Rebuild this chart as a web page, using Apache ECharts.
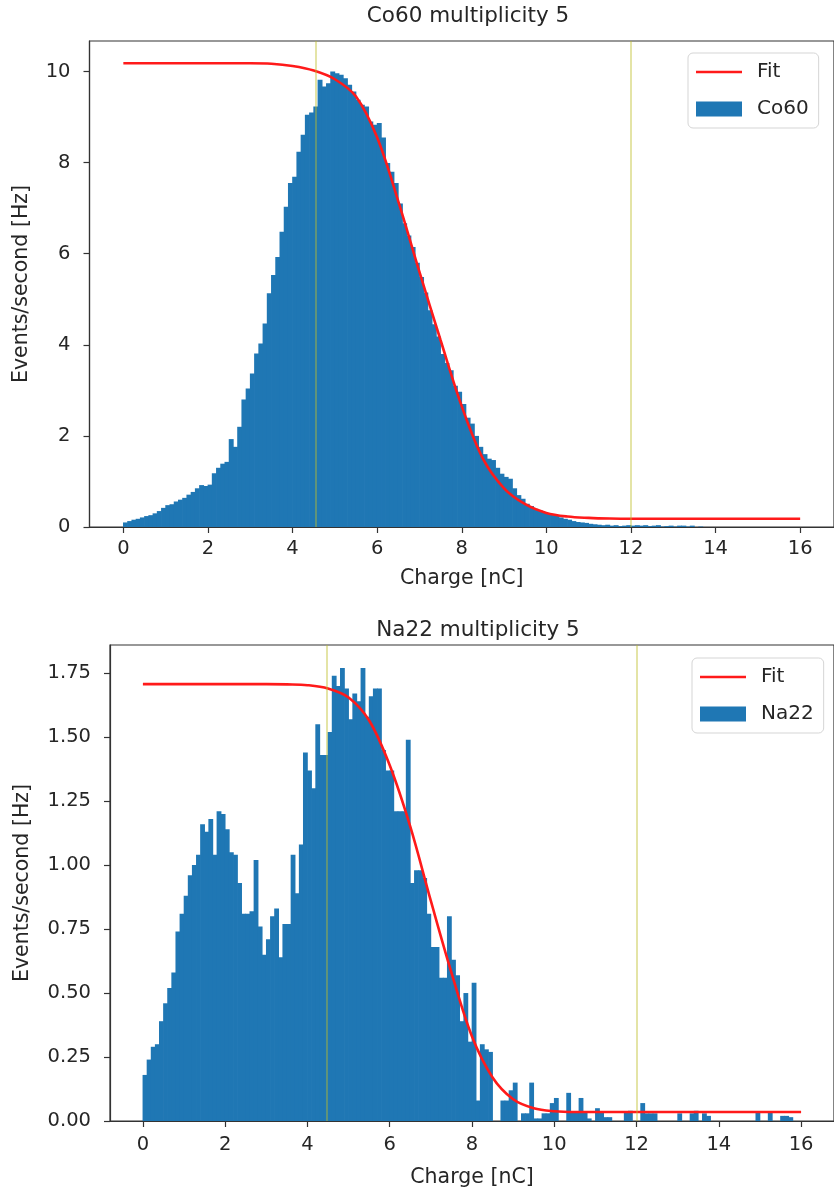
<!DOCTYPE html>
<html>
<head>
<meta charset="utf-8">
<script src="https://cdn.jsdelivr.net/npm/echarts@6/dist/echarts.min.js"></script>
<style>
html,body{margin:0;padding:0;background:#fff;}
#chart{width:834px;height:1193px;}
</style>
</head>
<body>
<div id="chart"></div>
<script>
// ---------------- data ----------------
const binWidth = 0.1;      // histogram bin width [nC]
const binStart = 0;        // first bin edge [nC]

// Co60 multiplicity 5 histogram (Events/second per bin)
const coCounts = [
 0.10,0.13,0.16,0.18,0.21,0.24,0.26,0.30,0.35,0.42,
 0.48,0.50,0.56,0.60,0.64,0.71,0.77,0.85,0.92,0.90,
 0.93,1.18,1.30,1.39,1.43,1.93,1.76,2.20,2.80,3.04,
 3.37,3.81,4.03,4.47,5.13,5.53,5.93,6.48,7.03,7.55,
 7.69,8.24,8.61,9.05,9.10,9.23,9.82,9.67,9.74,10.00,
 9.96,9.93,9.85,9.71,9.56,9.38,9.27,9.23,8.90,8.83,
 8.87,8.55,7.99,7.80,7.55,7.10,6.67,6.40,6.15,5.80,
 5.49,5.15,4.76,4.45,4.18,3.80,3.60,3.44,3.10,2.97,
 2.70,2.40,2.27,2.00,1.76,1.60,1.50,1.47,1.30,1.17,
 1.10,1.06,0.85,0.70,0.62,0.51,0.46,0.40,0.37,0.33,
 0.30,0.27,0.26,0.21,0.18,0.16,0.13,0.11,0.10,0.09,
 0.07,0.06,0.05,0.04,0.05,0.03,0.04,0.02,0.03,0.04,
 0.03,0.04,0.03,0.04,0.02,0.03,0.04,0.01,0.02,0.03,
 0.01,0.03,0.03,0.01,0.03,0.00,0.01,0.00,0.00,0.00,
 0.00,0.00,0.00,0.00,0.00,0.00,0.00,0.00,0.00,0.00,
 0.00,0.00,0.00,0.00,0.00,0.00,0.00,0.00,0.00,0.00
];
// Na22 multiplicity 5 histogram
const naCounts = [
 0.18,0.24,0.29,0.30,0.39,0.46,0.52,0.58,0.74,0.81,
 0.88,0.96,1.00,1.04,1.16,1.13,1.18,1.04,1.21,1.20,
 1.14,1.05,1.04,0.93,0.81,0.81,0.82,1.02,0.76,0.65,
 0.71,0.80,0.83,0.64,0.77,0.77,1.04,0.89,1.08,1.44,
 1.37,1.30,1.55,1.43,1.43,1.52,1.74,1.70,1.77,1.69,
 1.57,1.67,1.64,1.77,1.58,1.66,1.69,1.69,1.45,1.37,
 1.37,1.21,1.21,1.21,1.49,0.93,0.98,0.98,0.95,0.81,
 0.68,0.68,0.56,0.56,0.80,0.63,0.57,0.39,0.50,0.31,
 0.54,0.08,0.30,0.28,0.27,0.00,0.00,0.08,0.08,0.12,
 0.15,0.00,0.03,0.03,0.15,0.01,0.01,0.03,0.03,0.07,
 0.09,0.00,0.00,0.11,0.035,0.035,0.09,0.035,0.01,0.00,
 0.05,0.035,0.015,0.015,0.00,0.00,0.00,0.035,0.04,0.00,
 0.00,0.07,0.03,0.03,0.03,0.00,0.00,0.00,0.00,0.00,
 0.03,0.00,0.00,0.03,0.04,0.00,0.03,0.02,0.00,0.00,
 0.00,0.00,0.00,0.00,0.00,0.00,0.00,0.00,0.00,0.035,
 0.00,0.00,0.035,0.00,0.00,0.02,0.02,0.015,0.00,0.00
];

// Fit curves
const coFitX = [0,1,2,3,3.5,4,4.5,5,5.5,6,6.5,7,7.5,8,8.5,9,9.5,10,10.5,11,11.5,12,13,14,15,16];
const coFitY = [10.18,10.18,10.18,10.18,10.17,10.12,10.02,9.83,9.45,8.55,7.15,5.6,4.1,2.65,1.5,0.85,0.5,0.31,0.23,0.2,0.185,0.18,0.18,0.18,0.18,0.18];
const naFitX = [0,1,2,3,3.5,4,4.5,5,5.5,6,6.5,7,7.5,8,8.5,9,9.5,10,10.5,11,12,13,14,15,16];
const naFitY = [1.707,1.707,1.707,1.707,1.706,1.703,1.69,1.655,1.565,1.39,1.15,0.86,0.58,0.33,0.17,0.085,0.05,0.038,0.035,0.035,0.035,0.035,0.035,0.035,0.035];

// cut lines [nC]
const coCuts = [4.55, 12];
const naCuts = [4.47, 12];

// axis ticks
const xTicks = [0,2,4,6,8,10,12,14,16];
const coYTicks = [0,2,4,6,8,10];
const naYTicks = [0,0.25,0.5,0.75,1.0,1.25,1.5,1.75];

// ---------------- chart ----------------
const FONT = 'DejaVu Sans';
const TXT = '#262626';
const AX = '#333333';
const BLUE = '#1f77b4';
const RED = '#ff1a1a';
const CUT = 'rgba(190,190,40,0.55)';
const TICK_FS = 19.5, NAME_FS = 20.5, TITLE_FS = 21.5, LEG_FS = 20;

function histData(counts){
  return counts.map((v,i)=>[binStart+i*binWidth, binStart+(i+1)*binWidth, v]);
}
function fitData(xs, ys){ return xs.map((x,i)=>[x, ys[i]]); }

function histRender(params, api){
  const x0 = api.value(0), x1 = api.value(1), y = api.value(2);
  if (!(y > 0)) return null;
  const p0 = api.coord([x0, y]);
  const p1 = api.coord([x1, 0]);
  return {
    type:'rect',
    shape:{x:p0[0]-0.35, y:p0[1], width:(p1[0]-p0[0])+0.7, height:p1[1]-p0[1]},
    style:{fill:BLUE}
  };
}

function xAxisCfg(gridIndex, nameGap, labelMargin){
  return {
    type:'value', gridIndex, min:-0.8, max:16.8,
    name:'Charge [nC]', nameLocation:'middle', nameGap,
    nameTextStyle:{fontFamily:FONT, fontSize:NAME_FS, color:TXT},
    axisLine:{show:true, onZero:false, lineStyle:{color:AX, width:1.2}},
    axisTick:{show:true, length:6, customValues:xTicks, lineStyle:{color:AX, width:1.2}},
    axisLabel:{show:true, margin:labelMargin, customValues:xTicks, fontFamily:FONT, fontSize:TICK_FS, color:TXT},
    splitLine:{show:false}
  };
}
function yAxisCfg(gridIndex, max, ticks, fmt, nameGap){
  return {
    type:'value', gridIndex, min:0, max,
    name:'Events/second [Hz]', nameLocation:'middle', nameGap,
    nameTextStyle:{fontFamily:FONT, fontSize:NAME_FS, color:TXT},
    axisLine:{show:true, onZero:false, lineStyle:{color:AX, width:1.2}},
    axisTick:{show:true, length:6, customValues:ticks, lineStyle:{color:AX, width:1.2}},
    axisLabel:{show:true, margin:19, customValues:ticks, fontFamily:FONT, fontSize:TICK_FS, color:TXT, formatter:fmt},
    splitLine:{show:false}
  };
}
function cutMark(cuts){
  return {
    silent:true, symbol:['none','none'],
    label:{show:false},
    lineStyle:{color:CUT, width:1.5, type:'solid'},
    data: cuts.map(c=>({xAxis:c}))
  };
}
function legendCfg(left, top, name){
  return {
    orient:'vertical', left, top,
    data:[{name:'Fit', icon:'path://M0,0 L46,0 L46,2.6 L0,2.6 Z'},{name:name, icon:'rect'}],
    itemWidth:46, itemHeight:15, itemGap:17,
    padding:[9,10,9,8],
    backgroundColor:'rgba(255,255,255,0.85)',
    borderColor:'#d5d5d5', borderWidth:1, borderRadius:5,
    textStyle:{fontFamily:FONT, fontSize:LEG_FS, color:TXT, padding:[0,0,0,10]}
  };
}

const chart = echarts.init(document.getElementById('chart'), null, {renderer:'canvas'});
chart.setOption({
  animation:false,
  backgroundColor:'#ffffff',
  title:[
    {text:'Co60 multiplicity 5', left:463, top:0, textAlign:'center',
     textStyle:{fontFamily:FONT, fontSize:TITLE_FS, fontWeight:'normal', color:TXT}},
    {text:'Na22 multiplicity 5', left:473, top:614, textAlign:'center',
     textStyle:{fontFamily:FONT, fontSize:TITLE_FS, fontWeight:'normal', color:TXT}}
  ],
  legend:[ legendCfg(688, 53, 'Co60'), legendCfg(692, 658, 'Na22') ],
  grid:[
    {left:89.5, top:41, width:746, height:486, show:true, borderColor:AX, borderWidth:1.2, backgroundColor:'transparent'},
    {left:110, top:645, width:727, height:476, show:true, borderColor:AX, borderWidth:1.2, backgroundColor:'transparent'}
  ],
  xAxis:[ xAxisCfg(0, 41, 12), xAxisCfg(1, 46, 14) ],
  yAxis:[
    yAxisCfg(0, 10.67, coYTicks, v=>String(v), 57),
    yAxisCfg(1, 1.86, naYTicks, v=>v.toFixed(2), 77)
  ],
  series:[
    {type:'custom', name:'Co60', xAxisIndex:0, yAxisIndex:0, renderItem:histRender,
     itemStyle:{color:BLUE}, encode:{x:[0,1], y:2}, data:histData(coCounts), z:2},
    {type:'line', name:'Fit', xAxisIndex:0, yAxisIndex:0, data:fitData(coFitX, coFitY),
     smooth:0.35, symbol:'none', lineStyle:{color:RED, width:2.6}, itemStyle:{color:RED},
     markLine:cutMark(coCuts), z:3},
    {type:'custom', name:'Na22', xAxisIndex:1, yAxisIndex:1, renderItem:histRender,
     itemStyle:{color:BLUE}, encode:{x:[0,1], y:2}, data:histData(naCounts), z:2},
    {type:'line', name:'Fit', xAxisIndex:1, yAxisIndex:1, data:fitData(naFitX, naFitY),
     smooth:0.35, symbol:'none', lineStyle:{color:RED, width:2.6}, itemStyle:{color:RED},
     markLine:cutMark(naCuts), z:3}
  ]
});
</script>
</body>
</html>
